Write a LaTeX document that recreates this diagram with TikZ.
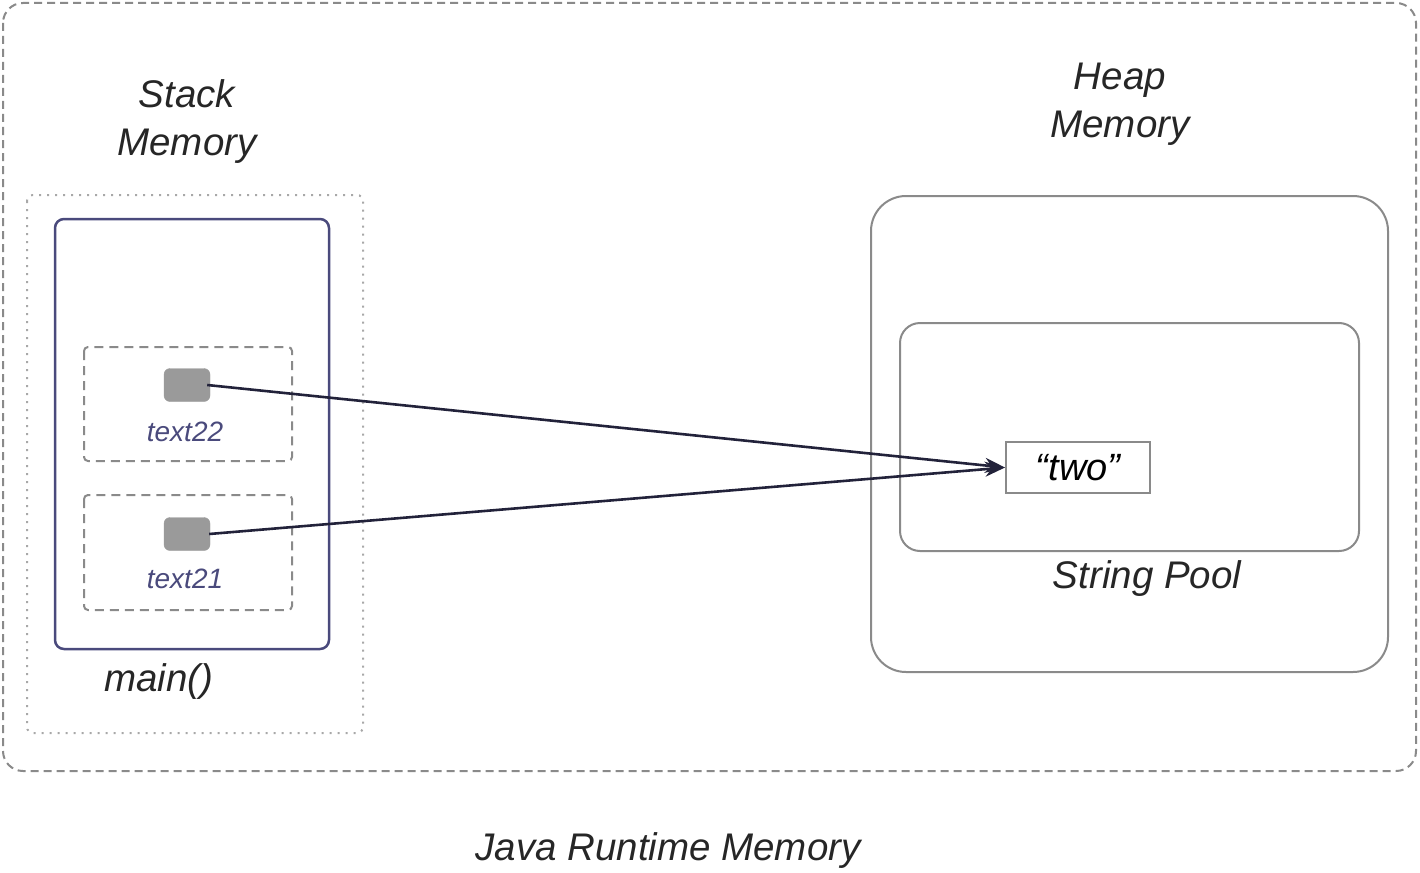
\documentclass[tikz,border=0pt]{standalone}
\usepackage{fontspec}
\setmainfont{Liberation Sans}
\usetikzlibrary{arrows.meta}
\definecolor{framegrey}{HTML}{8A8A8A}
\definecolor{dotgrey}{HTML}{A8A8A8}
\definecolor{navy}{HTML}{4A4A7C}
\definecolor{chipgrey}{HTML}{9A9A9A}
\definecolor{arrowc}{HTML}{22223A}
\tikzset{
  lbl/.style={font=\fontsize{38.5}{48}\selectfont\itshape, text=black!85, align=center, inner sep=0pt},
  varlbl/.style={font=\fontsize{28}{32}\selectfont\itshape, text=navy, inner sep=0pt},
  chip/.style={rectangle, rounded corners=6pt, fill=chipgrey, draw=chipgrey, minimum width=46pt, minimum height=33pt, inner sep=0pt},
  varbox/.style={draw=framegrey, line width=2pt, dash pattern=on 9pt off 6pt, rounded corners=4pt},
  ref/.style={draw=arrowc, line width=2.6pt, -{Stealth[length=20pt,width=15pt]}},
}
\begin{document}
\begin{tikzpicture}[x=1pt,y=-1pt]
\useasboundingbox (0,0) rectangle (1420,872);
% outer runtime frame
\draw[draw=framegrey, line width=2pt, dash pattern=on 8pt off 5pt, rounded corners=20pt] (3,3) rectangle (1416,771);
\node[lbl] (jrm) at (668,851) {Java Runtime Memory};
% stack
\node[lbl] (stack) at (187,122) {Stack\\Memory};
\draw[draw=dotgrey, line width=2pt, dash pattern=on 2pt off 6pt, rounded corners=6pt] (27,195) rectangle (363,733);
\draw[draw=navy, line width=2.5pt, rounded corners=9pt] (55,219) rectangle (329,649);
\node[lbl] (main) at (159,682) {main()};
\draw[varbox] (84,347) rectangle (292,461);
\draw[varbox] (84,495) rectangle (292,610);
\node[chip] (chip22) at (187,385) {};
\node[varlbl] (t22) at (185,432) {text22};
\node[chip] (chip21) at (187,534) {};
\node[varlbl] (t21) at (185,579) {text21};
% heap
\node[lbl] (heap) at (1120,104) {Heap\\Memory};
\draw[draw=framegrey, line width=2pt, rounded corners=35pt] (871,196) rectangle (1388,672);
\draw[draw=framegrey, line width=2pt, rounded corners=20pt] (900,323) rectangle (1359,551);
\node[lbl] (pool) at (1147,579) {String Pool};
\node[draw=framegrey, line width=2pt, minimum width=144pt, minimum height=51pt, inner sep=0pt, font=\fontsize{38}{44}\selectfont\itshape] (two) at (1078,467.5) {“two”};
% references
\draw[ref] ([xshift=-3pt]chip22.east) -- (two.west);
\draw[ref] ([xshift=-1pt]chip21.east) -- (two.west);
\end{tikzpicture}
\end{document}
